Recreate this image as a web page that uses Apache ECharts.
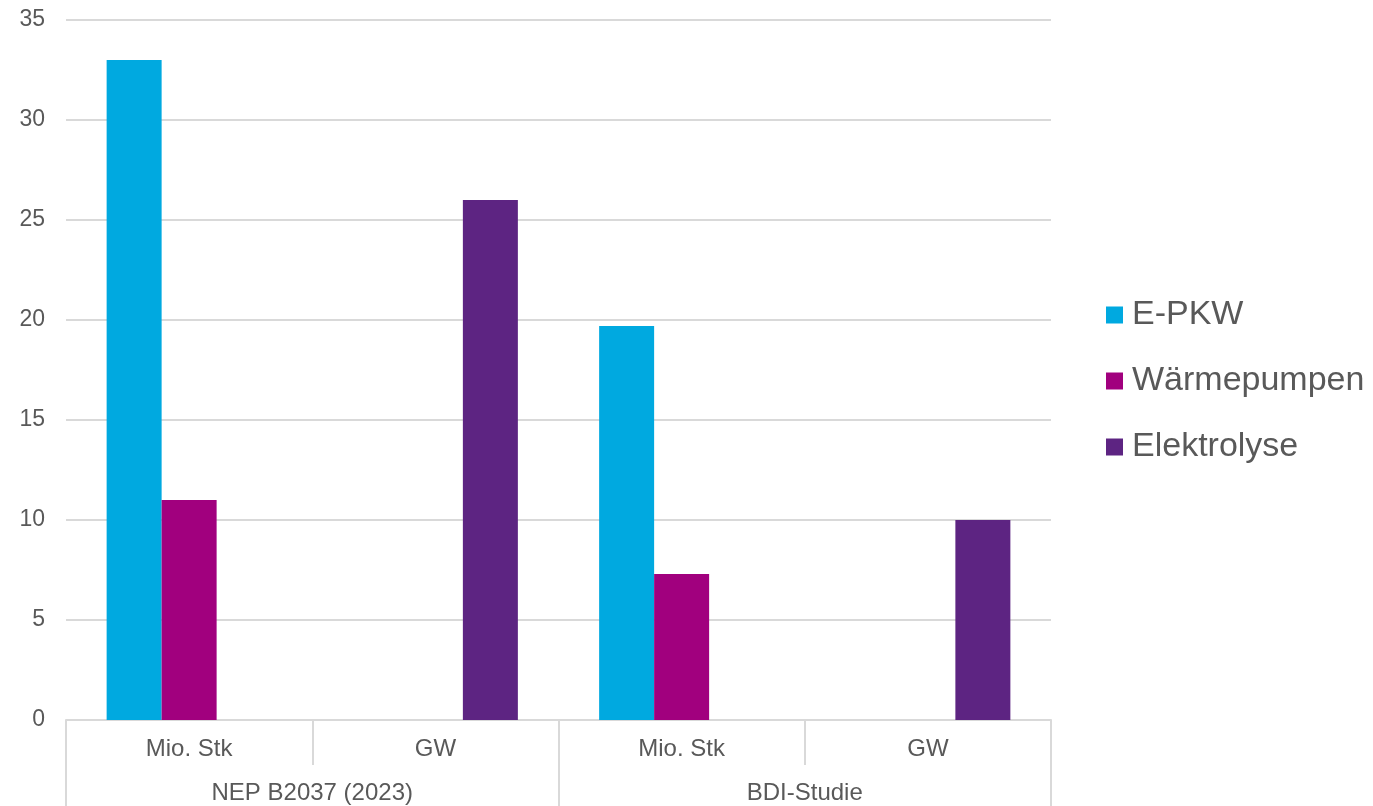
<!DOCTYPE html>
<html>
<head>
<meta charset="utf-8">
<script src="https://cdn.jsdelivr.net/npm/echarts@6/dist/echarts.min.js"></script>
<style>
  html, body { margin: 0; padding: 0; background: #fff; }
  #chart { width: 1373px; height: 806px; }
</style>
</head>
<body>
<div id="chart"></div>
<script>
// Units (inner category row) and studies (outer category row)
const units = ['Mio. Stk', 'GW', 'Mio. Stk', 'GW'];
const studies = ['NEP B2037 (2023)', 'BDI-Studie'];

// Series values per unit column
const ePkw = [33, null, 19.7, null];
const waermepumpen = [11, null, 7.3, null];
const elektrolyse = [null, 26, null, 10];

// Y axis range
const yMin = 0;
const yMax = 35;
const yStep = 5;

const textColor = '#595959';
const lineColor = '#d9d9d9';
const font = 'Liberation Sans, Arial, sans-serif';

const chart = echarts.init(document.getElementById('chart'));

chart.setOption({
  animation: false,
  textStyle: { fontFamily: font },
  grid: { left: 66, right: 322, top: 20, bottom: 86 },
  legend: {
    orient: 'vertical',
    left: 1106,
    top: 298,
    padding: 0,
    itemWidth: 17,
    itemHeight: 17,
    itemGap: 32,
    icon: 'rect',
    textStyle: { fontSize: 34, lineHeight: 34, color: textColor, fontFamily: font, padding: [0, 0, 0, 4] },
    data: ['E-PKW', 'Wärmepumpen', 'Elektrolyse']
  },
  xAxis: [
    {
      type: 'category',
      data: units,
      axisLine: { lineStyle: { color: lineColor, width: 2 } },
      axisTick: { show: true, length: 45, lineStyle: { color: lineColor, width: 2 } },
      axisLabel: { fontSize: 24, color: textColor, margin: 17, fontFamily: font }
    },
    {
      type: 'category',
      data: studies,
      position: 'bottom',
      axisLine: { show: false },
      axisTick: { show: true, length: 90, lineStyle: { color: lineColor, width: 2 } },
      axisLabel: { fontSize: 24, color: textColor, margin: 61, fontFamily: font }
    }
  ],
  yAxis: {
    type: 'value',
    min: yMin,
    max: yMax,
    interval: yStep,
    axisLine: { show: false },
    axisTick: { show: false },
    splitLine: { lineStyle: { color: lineColor, width: 2 } },
    axisLabel: { fontSize: 23, color: textColor, margin: 21, fontFamily: font }
  },
  series: [
    {
      name: 'E-PKW', type: 'bar', xAxisIndex: 0, data: ePkw,
      barGap: '0%', barCategoryGap: '33%',
      itemStyle: { color: '#00A9E0' }
    },
    {
      name: 'Wärmepumpen', type: 'bar', xAxisIndex: 0, data: waermepumpen,
      barGap: '0%', barCategoryGap: '33%',
      itemStyle: { color: '#A1007E' }
    },
    {
      name: 'Elektrolyse', type: 'bar', xAxisIndex: 0, data: elektrolyse,
      barGap: '0%', barCategoryGap: '33%',
      itemStyle: { color: '#5D2482' }
    }
  ]
});
</script>
</body>
</html>
